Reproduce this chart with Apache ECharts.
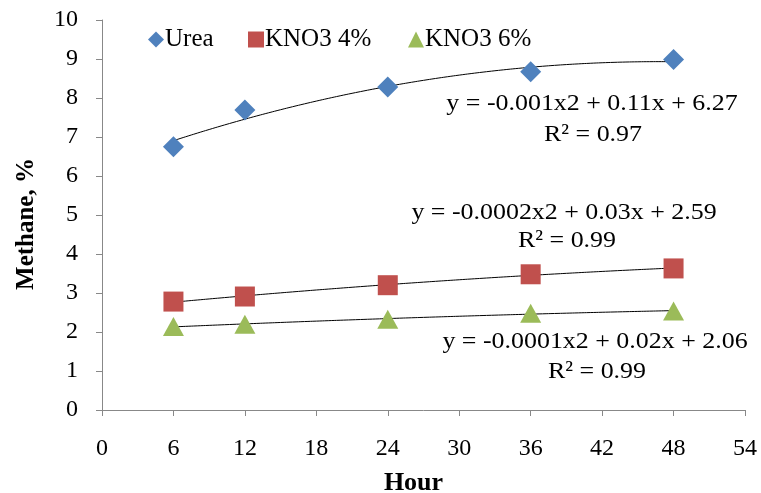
<!DOCTYPE html>
<html>
<head>
<meta charset="utf-8">
<script src="https://cdn.jsdelivr.net/npm/echarts@6/dist/echarts.min.js"></script>
<style>
  html, body { margin: 0; padding: 0; background: #fff; }
  #chart { width: 761px; height: 493px; }
</style>
</head>
<body>
<div id="chart"></div>
<script>
// data
var hours = [6, 12, 24, 36, 48];
var urea = [6.75, 7.69, 8.28, 8.67, 8.99];
var kno3_4 = [2.78, 2.91, 3.2, 3.48, 3.63];
var kno3_6 = [2.14, 2.2, 2.33, 2.48, 2.54];
var xTicks = { min: 0, max: 54, interval: 6 };
var yTicks = { min: 0, max: 10, interval: 1 };
var equations = [
    ['y = -0.001x2 + 0.11x + 6.27', 'R² = 0.97'],
    ['y = -0.0002x2 + 0.03x + 2.59', 'R² = 0.99'],
    ['y = -0.0001x2 + 0.02x + 2.06', 'R² = 0.99']
];

// least squares quadratic fit, like the excel trendline
function polyFit(xs, ys) {
    var s = [0, 0, 0, 0, 0], t = [0, 0, 0];
    for (var i = 0; i < xs.length; i++) {
        var p = 1;
        for (var k = 0; k < 5; k++) { s[k] += p; if (k < 3) t[k] += p * ys[i]; p *= xs[i]; }
    }
    var m = [[s[0], s[1], s[2], t[0]], [s[1], s[2], s[3], t[1]], [s[2], s[3], s[4], t[2]]];
    for (var c = 0; c < 3; c++) {
        for (var r = c + 1; r < 3; r++) {
            var f = m[r][c] / m[c][c];
            for (var j = c; j < 4; j++) m[r][j] -= f * m[c][j];
        }
    }
    var b = [0, 0, 0];
    for (var r2 = 2; r2 >= 0; r2--) {
        var v = m[r2][3];
        for (var j2 = r2 + 1; j2 < 3; j2++) v -= m[r2][j2] * b[j2];
        b[r2] = v / m[r2][r2];
    }
    return b; // c0 + c1 x + c2 x^2
}
function trend(ys) {
    var b = polyFit(hours, ys), pts = [];
    var x0 = hours[0], x1 = hours[hours.length - 1];
    for (var x = x0; x <= x1 + 1e-9; x += 1) pts.push([x, b[0] + b[1] * x + b[2] * x * x]);
    return pts;
}
function pairs(ys) {
    return hours.map(function (h, i) { return [h, ys[i]]; });
}

var font = 'Liberation Serif';
var Chart = echarts.init(document.getElementById('chart'));

function trendSeries(ys) {
    return {
        type: 'line', data: trend(ys), smooth: true, showSymbol: false, silent: true,
        lineStyle: { color: '#000', width: 1 }, z: 1
    };
}
function legendAt(name, left) {
    return {
        data: [name], left: left, top: 22, itemWidth: 16, itemHeight: 16, itemGap: 0,
        textStyle: { fontFamily: font, fontSize: 25, color: '#000', padding: [0, 0, 0, -4] }
    };
}
function eqText(lines, cx, ys) {
    return lines.map(function (s, i) {
        return {
            type: 'text', x: cx[i], y: ys[i], scaleX: 1.08,
            style: { text: s, fontFamily: font, fontSize: 24, fill: '#000', textAlign: 'center', textVerticalAlign: 'middle' }
        };
    });
}

var option = {
    animation: false,
    color: ['#4F81BD', '#C0504D', '#9BBB59'],
    grid: { left: 102, right: 16, top: 20, bottom: 83, outerBoundsMode: 'none' },
    legend: [legendAt('Urea', 143), legendAt('KNO3 4%', 243), legendAt('KNO3 6%', 403)],
    xAxis: {
        type: 'value', min: xTicks.min, max: xTicks.max, interval: xTicks.interval,
        name: 'Hour', nameLocation: 'middle', nameGap: 60,
        nameTextStyle: { fontFamily: font, fontSize: 26, fontWeight: 'bold', color: '#000', padding: [0, 20, 0, 0] },
        axisLine: { lineStyle: { color: '#888' } },
        axisTick: { show: true, length: 6, lineStyle: { color: '#888' } },
        axisLabel: { fontFamily: font, fontSize: 24, color: '#000', margin: 27 },
        splitLine: { show: false }
    },
    yAxis: {
        type: 'value', min: yTicks.min, max: yTicks.max, interval: yTicks.interval,
        name: 'Methane, %', nameLocation: 'middle', nameGap: 63,
        nameTextStyle: { fontFamily: font, fontSize: 25, fontWeight: 'bold', color: '#000', padding: [0, 18, 0, 0] },
        axisLine: { show: true, lineStyle: { color: '#888' } },
        axisTick: { show: true, length: 6, lineStyle: { color: '#888' } },
        axisLabel: { fontFamily: font, fontSize: 24, color: '#000', margin: 24 },
        splitLine: { show: false }
    },
    series: [
        { name: 'Urea', type: 'scatter', symbol: 'diamond', symbolSize: 21, data: pairs(urea), itemStyle: { opacity: 1 }, z: 2 },
        { name: 'KNO3 4%', type: 'scatter', symbol: 'rect', symbolSize: 20, data: pairs(kno3_4), itemStyle: { opacity: 1 }, z: 2 },
        { name: 'KNO3 6%', type: 'scatter', symbol: 'triangle', symbolSize: [21, 19], data: pairs(kno3_6), itemStyle: { opacity: 1 }, z: 2 },
        trendSeries(urea),
        trendSeries(kno3_4),
        trendSeries(kno3_6)
    ],
    graphic: [].concat(
        eqText(equations[0], [592, 593], [104, 135]),
        eqText(equations[1], [564, 567], [213, 241]),
        eqText(equations[2], [595, 597], [342, 372])
    )
};
Chart.setOption(option);
</script>
</body>
</html>
